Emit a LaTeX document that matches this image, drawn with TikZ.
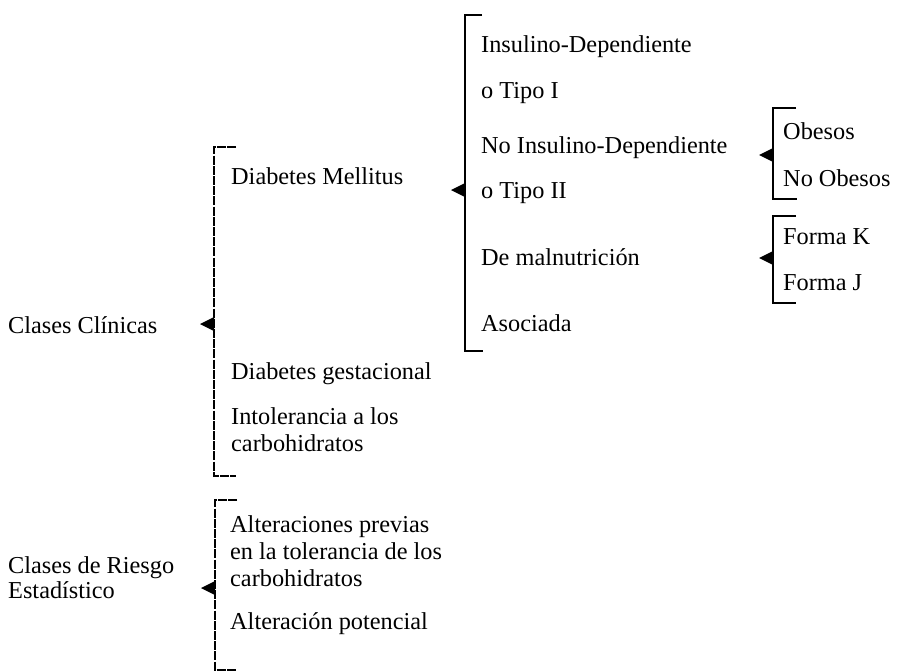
\documentclass[tikz,border=0pt]{standalone}
\usepackage{fontspec}
\setmainfont{Liberation Serif}
\begin{document}
\begin{tikzpicture}[x=1pt,y=-1pt,
  lbl/.style={anchor=base west,inner sep=0pt,font=\fontsize{24.3}{27}\selectfont,align=left},
  brk/.style={draw=black,line width=1.2pt},
  brkd/.style={draw=black,line width=1.1pt,dash pattern=on 9pt off 1.2pt},
  tri/.style={fill=black,draw=none}]
\useasboundingbox (0,0) rectangle (903,672);
% Texts (multi-line nodes: base = baseline of last line)
\node[lbl] (cc) at (8,333) {Clases Clínicas};
\node[lbl,font=\fontsize{24.3}{25}\selectfont] (cr) at (8,598) {Clases de Riesgo\\Estadístico};
\node[lbl] (dm) at (231,184) {Diabetes Mellitus};
\node[lbl] (dg) at (231,379) {Diabetes gestacional};
\node[lbl] (ic) at (231,451) {Intolerancia a los\\carbohidratos};
\node[lbl] (ap) at (230,586) {Alteraciones previas\\en la tolerancia de los\\carbohidratos};
\node[lbl] (apo) at (230,629) {Alteración potencial};
\node[lbl] (id) at (481,52) {Insulino-Dependiente};
\node[lbl] (t1) at (481,98) {o Tipo I};
\node[lbl] (nid) at (481,153) {No Insulino-Dependiente};
\node[lbl] (t2) at (481,198) {o Tipo II};
\node[lbl] (dmn) at (481,265) {De malnutrición};
\node[lbl] (as) at (481,331) {Asociada};
\node[lbl] (ob) at (783,139) {Obesos};
\node[lbl] (nob) at (783,186) {No Obesos};
\node[lbl] (fk) at (783,244) {Forma K};
\node[lbl] (fj) at (783,290) {Forma J};
% Brackets
\coordinate (b1t) at (214,147); \coordinate (b1b) at (214,476); \coordinate (b1a) at (214,324);
\draw[brkd] (236,147) -- (b1t) -- (b1b) -- (236,476);
\fill[tri] (b1a) ++(0,-7) -- ++(-14,7) -- ++(14,7) -- cycle;
\coordinate (b2t) at (215,500); \coordinate (b2b) at (215,670); \coordinate (b2a) at (215,588);
\draw[brkd] (237,500) -- (b2t) -- (b2b) -- (237,670);
\fill[tri] (b2a) ++(0,-7) -- ++(-14,7) -- ++(14,7) -- cycle;
\coordinate (b3t) at (465,15); \coordinate (b3b) at (465,351); \coordinate (b3a) at (465,190);
\draw[brk] (482,15) -- (b3t) -- (b3b) -- (483,351);
\fill[tri] (b3a) ++(0,-7) -- ++(-14,7) -- ++(14,7) -- cycle;
\coordinate (b4t) at (773,108); \coordinate (b4b) at (773,199); \coordinate (b4a) at (773,155);
\draw[brk] (796,108) -- (b4t) -- (b4b) -- (797,199);
\fill[tri] (b4a) ++(0,-7) -- ++(-14,7) -- ++(14,7) -- cycle;
\coordinate (b5t) at (773,216); \coordinate (b5b) at (773,303); \coordinate (b5a) at (773,258);
\draw[brk] (796,216) -- (b5t) -- (b5b) -- (796,303);
\fill[tri] (b5a) ++(0,-7) -- ++(-14,7) -- ++(14,7) -- cycle;
\end{tikzpicture}
\end{document}
